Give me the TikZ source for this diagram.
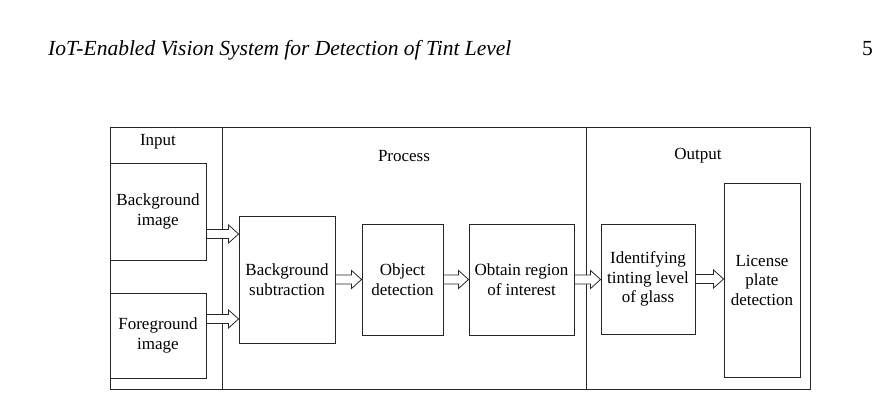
\documentclass[tikz,border=0pt]{standalone}
\usepackage{fontspec}
\setmainfont{Liberation Serif}
\usetikzlibrary{calc}
\tikzset{
  px/.style={x=1pt,y=-1pt},
  frame/.style={draw=black!85,line width=0.9pt},
  box/.style={draw=black!85,line width=0.9pt,rectangle,inner sep=0pt,align=center,
    font=\fontsize{17}{19.5}\selectfont},
  lbl/.style={inner sep=0pt,font=\fontsize{17}{19.5}\selectfont},
  fat/.style={draw=black!85,line width=0.8pt,fill=white,line join=miter}
}
\newcommand\fatarrow[2]{%
  \path (#1) coordinate (fa-s) (#2) coordinate (fa-e);
  \draw[fat] let \p1=(fa-s), \p2=(fa-e) in
    (\x1,\y1+4.5pt) -- (\x2-10pt,\y1+4.5pt) -- (\x2-10pt,\y1+9pt) -- (\x2,\y1)
    -- (\x2-10pt,\y1-9pt) -- (\x2-10pt,\y1-4.5pt) -- (\x1,\y1-4.5pt) -- cycle;}
\begin{document}
\begin{tikzpicture}[px]
\useasboundingbox (0,0) rectangle (883,405);
% header
\node[anchor=base west,inner sep=0pt,font=\fontsize{21.5}{24}\selectfont\itshape] (title) at (48,55) {IoT-Enabled Vision System for Detection of Tint Level};
\node[anchor=base east,inner sep=0pt,font=\fontsize{21.5}{24}\selectfont] (pagenum) at (873,55) {5};
% frame
\draw[frame] (110,127) rectangle (810,389);
\draw[frame] (222,127) -- (222,389);
\draw[frame] (586,127) -- (586,389);
\node[lbl] (input) at (158,142) {Input};
\node[lbl] (process) at (404,156) {Process};
\node[lbl] (output) at (698,156) {Output};
% boxes
\node[box,minimum width=96pt,minimum height=97pt] (bgimg) at (158,211.5) {Background\\image};
\node[box,minimum width=96pt,minimum height=85pt] (fgimg) at (158,335.5) {Foreground\\image};
\node[box,minimum width=96pt,minimum height=127pt] (bgsub) at (287,279.5) {Background\\subtraction};
\node[box,minimum width=81pt,minimum height=111pt] (objdet) at (402.5,279.5) {Object\\detection};
\node[box,minimum width=105pt,minimum height=111pt] (roi) at (521.5,279.5) {Obtain region\\of interest};
\node[box,minimum width=94pt,minimum height=110pt] (tint) at (648,279) {Identifying\\tinting level\\of glass};
\node[box,minimum width=76pt,minimum height=194pt] (lpd) at (762,280) {License\\plate\\detection};
% arrows
\fatarrow{$(bgimg.east)+(0,22.5)$}{bgsub.west |- fa-s}
\fatarrow{$(fgimg.east)+(0,-16.5)$}{bgsub.west |- fa-s}
\fatarrow{bgsub.east}{objdet.west}
\fatarrow{objdet.east}{roi.west}
\fatarrow{roi.east}{tint.west}
\fatarrow{tint.east}{lpd.west |- fa-s}
\end{tikzpicture}
\end{document}
